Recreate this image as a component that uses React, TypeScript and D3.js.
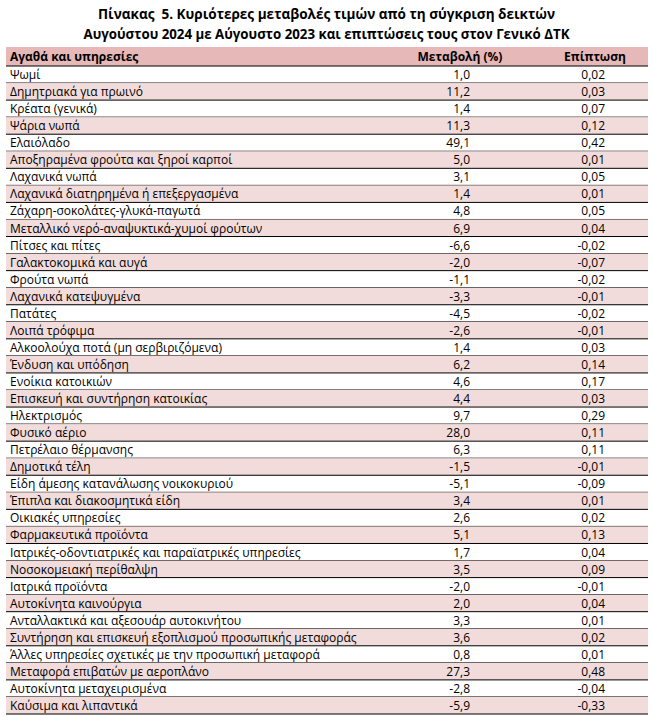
import React from "react";
import { scaleBand } from "d3";

const titleLines = [
  "Πίνακας  5. Κυριότερες μεταβολές τιμών από τη σύγκριση δεικτών",
  "Αυγούστου 2024 με Αύγουστο 2023 και επιπτώσεις τους στον Γενικό ΔΤΚ",
];

const headers = ["Αγαθά και υπηρεσίες", "Μεταβολή (%)", "Επίπτωση"];

const items = [
  "Ψωμί",
  "Δημητριακά για πρωινό",
  "Κρέατα (γενικά)",
  "Ψάρια νωπά",
  "Ελαιόλαδο",
  "Αποξηραμένα φρούτα και ξηροί καρποί",
  "Λαχανικά νωπά",
  "Λαχανικά διατηρημένα ή επεξεργασμένα",
  "Ζάχαρη-σοκολάτες-γλυκά-παγωτά",
  "Μεταλλικό νερό-αναψυκτικά-χυμοί φρούτων",
  "Πίτσες και πίτες",
  "Γαλακτοκομικά και αυγά",
  "Φρούτα νωπά",
  "Λαχανικά κατεψυγμένα",
  "Πατάτες",
  "Λοιπά τρόφιμα",
  "Αλκοολούχα ποτά (μη σερβιριζόμενα)",
  "Ένδυση και υπόδηση",
  "Ενοίκια κατοικιών",
  "Επισκευή και συντήρηση κατοικίας",
  "Ηλεκτρισμός",
  "Φυσικό αέριο",
  "Πετρέλαιο θέρμανσης",
  "Δημοτικά τέλη",
  "Είδη άμεσης κατανάλωσης νοικοκυριού",
  "Έπιπλα και διακοσμητικά είδη",
  "Οικιακές υπηρεσίες",
  "Φαρμακευτικά προϊόντα",
  "Ιατρικές-οδοντιατρικές και παραϊατρικές υπηρεσίες",
  "Νοσοκομειακή περίθαλψη",
  "Ιατρικά προϊόντα",
  "Αυτοκίνητα καινούργια",
  "Ανταλλακτικά και αξεσουάρ αυτοκινήτου",
  "Συντήρηση και επισκευή εξοπλισμού προσωπικής μεταφοράς",
  "Άλλες υπηρεσίες σχετικές με την προσωπική μεταφορά",
  "Μεταφορά επιβατών με αεροπλάνο",
  "Αυτοκίνητα μεταχειρισμένα",
  "Καύσιμα και λιπαντικά",
];

// % change Aug 2024 vs Aug 2023
const changes = [
  1.0, 11.2, 1.4, 11.3, 49.1, 5.0, 3.1, 1.4, 4.8, 6.9, -6.6, -2.0, -1.1, -3.3,
  -4.5, -2.6, 1.4, 6.2, 4.6, 4.4, 9.7, 28.0, 6.3, -1.5, -5.1, 3.4, 2.6, 5.1,
  1.7, 3.5, -2.0, 2.0, 3.3, 3.6, 0.8, 27.3, -2.8, -5.9,
];

// impact on general CPI
const impacts = [
  0.02, 0.03, 0.07, 0.12, 0.42, 0.01, 0.05, 0.01, 0.05, 0.04, -0.02, -0.07,
  -0.02, -0.01, -0.02, -0.01, 0.03, 0.14, 0.17, 0.03, 0.29, 0.11, 0.11, -0.01,
  -0.09, 0.01, 0.02, 0.13, 0.04, 0.09, -0.01, 0.04, 0.01, 0.02, 0.01, 0.48,
  -0.04, -0.33,
];

const W = 653;
const H = 716;
const left = 6;
const right = 648;
const headTop = 47;
const headBottom = 66;
const tableBottom = 714;

const FONT = "'Open Sans', sans-serif";
const fmt = (v: number, d: number) => v.toFixed(d).replace(".", ",");

export default function App() {
  const y = scaleBand<number>()
    .domain(items.map((_, i) => i))
    .range([headBottom, tableBottom])
    .paddingInner(0);

  const bw = y.bandwidth();

  return (
    <svg
      width={W}
      height={H}
      style={{ position: "absolute", left: 0, top: 0, background: "#fff" }}
      fontFamily={FONT}
    >
      {/* title */}
      {titleLines.map((t, i) => (
        <text
          key={t}
          x={W / 2}
          y={19 + i * 20}
          textAnchor="middle"
          fontWeight="bold"
          fontSize={13.5}
          fill="#000"
          textLength={i === 0 ? 457 : 486}
          lengthAdjust="spacingAndGlyphs"
          style={{ whiteSpace: "pre" }}
        >
          {t}
        </text>
      ))}

      {/* header row */}
      <rect x={left} y={headTop} width={right - left} height={headBottom - headTop} fill="#e6b8b7" />
      <text x={10} y={61} fontSize={12} fontWeight="bold">{headers[0]}</text>
      <text x={460} y={61} fontSize={12} fontWeight="bold" textAnchor="middle">{headers[1]}</text>
      <text x={595} y={61} fontSize={12} fontWeight="bold" textAnchor="middle">{headers[2]}</text>
      <line x1={left} x2={right} y1={headBottom} y2={headBottom} stroke="#000" strokeWidth={1} />

      {/* rows */}
      {items.map((name, i) => {
        const top = y(i) as number;
        return (
          <g key={name}>
            {i % 2 === 1 && (
              <rect x={left} y={top} width={right - left} height={bw} fill="#f2dcdb" />
            )}
            <text x={10} y={top + bw - 4} fontSize={12} fill="#000">{name}</text>
            <text x={470} y={top + bw - 4} fontSize={12} textAnchor="end" fill="#000">
              {fmt(changes[i], 1)}
            </text>
            <text x={605} y={top + bw - 4} fontSize={12} textAnchor="end" fill="#000">
              {fmt(impacts[i], 2)}
            </text>
            <line x1={left} x2={right} y1={top + bw} y2={top + bw} stroke="#000" strokeWidth={1} />
          </g>
        );
      })}
    </svg>
  );
}
